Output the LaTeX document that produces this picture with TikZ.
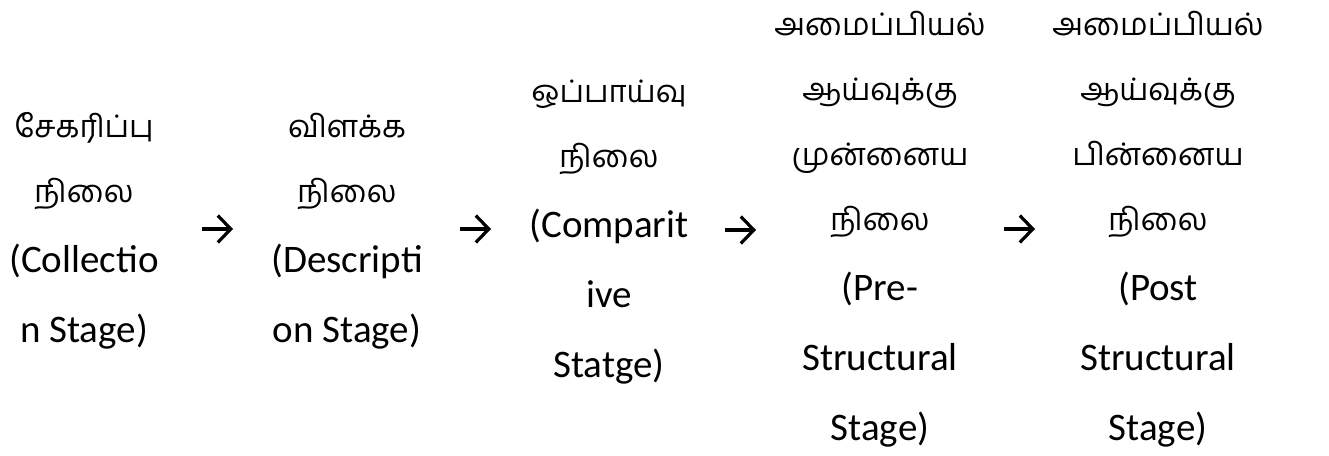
\documentclass[tikz,border=0pt]{standalone}
\usepackage{fontspec}
\setmainfont{Carlito}
\newfontfamily\tamilfont[Script=Tamil]{Hind Madurai}
\usetikzlibrary{positioning, arrows.meta}
\newcommand{\ta}[1]{{\fontsize{31}{70}\tamilfont #1}}
\tikzstyle{stage} = [align=center, inner sep=0pt, anchor=base,
    font=\fontsize{39}{70}\selectfont]
\tikzstyle{flow} = [line width=3.2pt,
    -{Straight Barb[length=13pt, width=27pt]}]

\begin{document}
\begin{tikzpicture}[x=1pt, y=-1pt]
    \useasboundingbox (0,0) rectangle (1329,455);

    \node[stage] (collect) at (84,342)
        {\ta{சேகரிப்பு}\\[-5pt] \ta{நிலை}\\ (Collectio\\ n Stage)};
    \node[stage] (descr) at (347,342)
        {\ta{விளக்க}\\[-5pt] \ta{நிலை}\\ (Descripti\\ on Stage)};
    \node[stage] (compar) at (609,377)
        {\ta{ஒப்பாய்வு}\\[-5pt] \ta{நிலை}\\ (Comparit\\ ive\\ Statge)};
    \node[stage] (prestr) at (880,440)
        {\ta{அமைப்பியல்}\\[-5pt] \ta{ஆய்வுக்கு}\\[-5pt] \ta{முன்னைய}\\[-5pt] \ta{நிலை}\\
         (Pre-\\ Structural\\ Stage)};
    \node[stage] (poststr) at (1158,440)
        {\ta{அமைப்பியல்}\\[-5pt] \ta{ஆய்வுக்கு}\\[-5pt] \ta{பின்னைய}\\[-5pt] \ta{நிலை}\\
         (Post\\ Structural\\ Stage)};

    % arrows between the stages
    \coordinate (a1s) at (202,229);
    \coordinate (a1e) at (233,229);
    \coordinate (a2s) at (460,229);
    \coordinate (a2e) at (491,229);
    \coordinate (a3s) at (725,230);
    \coordinate (a3e) at (756,230);
    \coordinate (a4s) at (1004,229);
    \coordinate (a4e) at (1035,229);
    \draw[flow] (a1s) -- (a1e);
    \draw[flow] (a2s) -- (a2e);
    \draw[flow] (a3s) -- (a3e);
    \draw[flow] (a4s) -- (a4e);
\end{tikzpicture}
\end{document}
